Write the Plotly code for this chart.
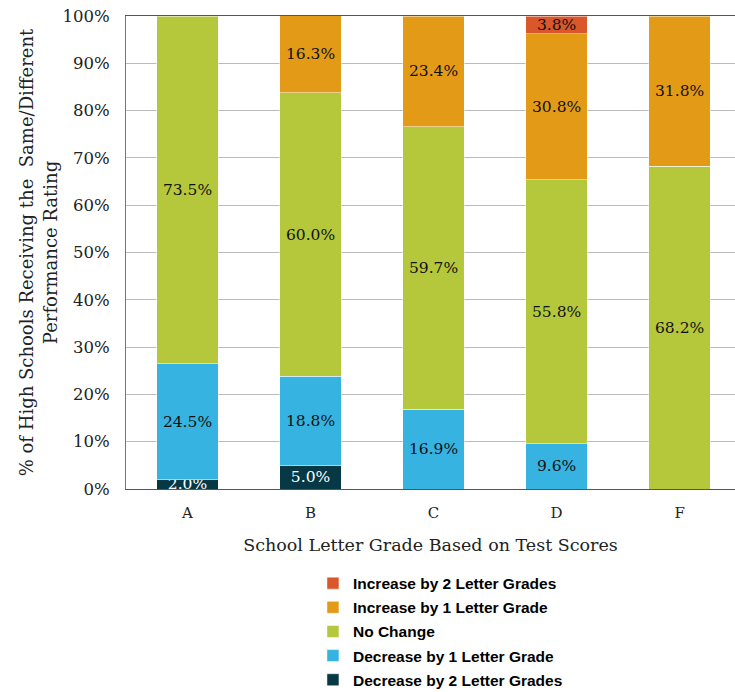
import plotly.graph_objects as go

categories = ["A", "B", "C", "D", "F"]
dec2 = [2.0, 5.0, None, None, None]
dec1 = [24.5, 18.8, 16.9, 9.6, None]
no_change = [73.5, 60.0, 59.7, 55.8, 68.2]
inc1 = [None, 16.3, 23.4, 30.8, 31.8]
inc2 = [None, None, None, 3.8, None]

series = [
    ("Decrease by 2 Letter Grades", dec2, "#073845", "white"),
    ("Decrease by 1 Letter Grade", dec1, "#36B3E0", "#111111"),
    ("No Change", no_change, "#B5C83C", "#111111"),
    ("Increase by 1 Letter Grade", inc1, "#E39A17", "#111111"),
    ("Increase by 2 Letter Grades", inc2, "#D9572A", "#111111"),
]

fig = go.Figure()
for i, (name, vals, color, tcolor) in enumerate(series):
    fig.add_trace(go.Bar(
        x=categories, y=vals, name=name, legendgroup=name,
        legendrank=1000 - i,
        marker=dict(color=color, line=dict(color="white", width=0.5)),
        text=[f"{v:.1f}%" if v is not None else "" for v in vals],
        textposition="inside", insidetextanchor="middle",
        textfont=dict(family="DejaVu Serif", size=15.5, color=tcolor),
        constraintext="none",
        width=0.5,
    ))

fig.update_layout(
    barmode="stack",
    width=735, height=692,
    margin=dict(l=126, r=0, t=16, b=203, autoexpand=False),
    plot_bgcolor="white", paper_bgcolor="white",
    uniformtext=dict(mode="show", minsize=15),
    font=dict(family="DejaVu Serif", color="#222222"),
    xaxis=dict(
        range=[-0.5, 4.45],
        showline=True, linecolor="#555555", linewidth=1.2, mirror=True,
        ticks="", tickfont=dict(size=15, color="#222222"), ticklabelstandoff=10,
        title=dict(text="School Letter Grade Based on Test Scores",
                   font=dict(size=17.5, color="#222222"), standoff=17),
    ),
    yaxis=dict(
        range=[0, 100], dtick=10, ticksuffix="%",
        showgrid=True, gridcolor="#BBBBBB", gridwidth=1,
        showline=True, linecolor="#777777", linewidth=1,
        tickfont=dict(size=16.5, color="#222222"), ticklabelstandoff=12,
        zeroline=False,
        title=dict(text="% of High Schools Receiving the  Same/Different<br>Performance Rating",
                   font=dict(size=18, color="#222222"), standoff=0),
    ),
    legend=dict(
        orientation="v",
        x=0.307, y=-0.164, xanchor="left", yanchor="top",
        font=dict(family="Liberation Sans, Arial, sans-serif",
                  size=15.5, color="black", weight="bold"),
        itemwidth=30, tracegroupgap=1,
    ),
)

fig.write_html("out.html")
